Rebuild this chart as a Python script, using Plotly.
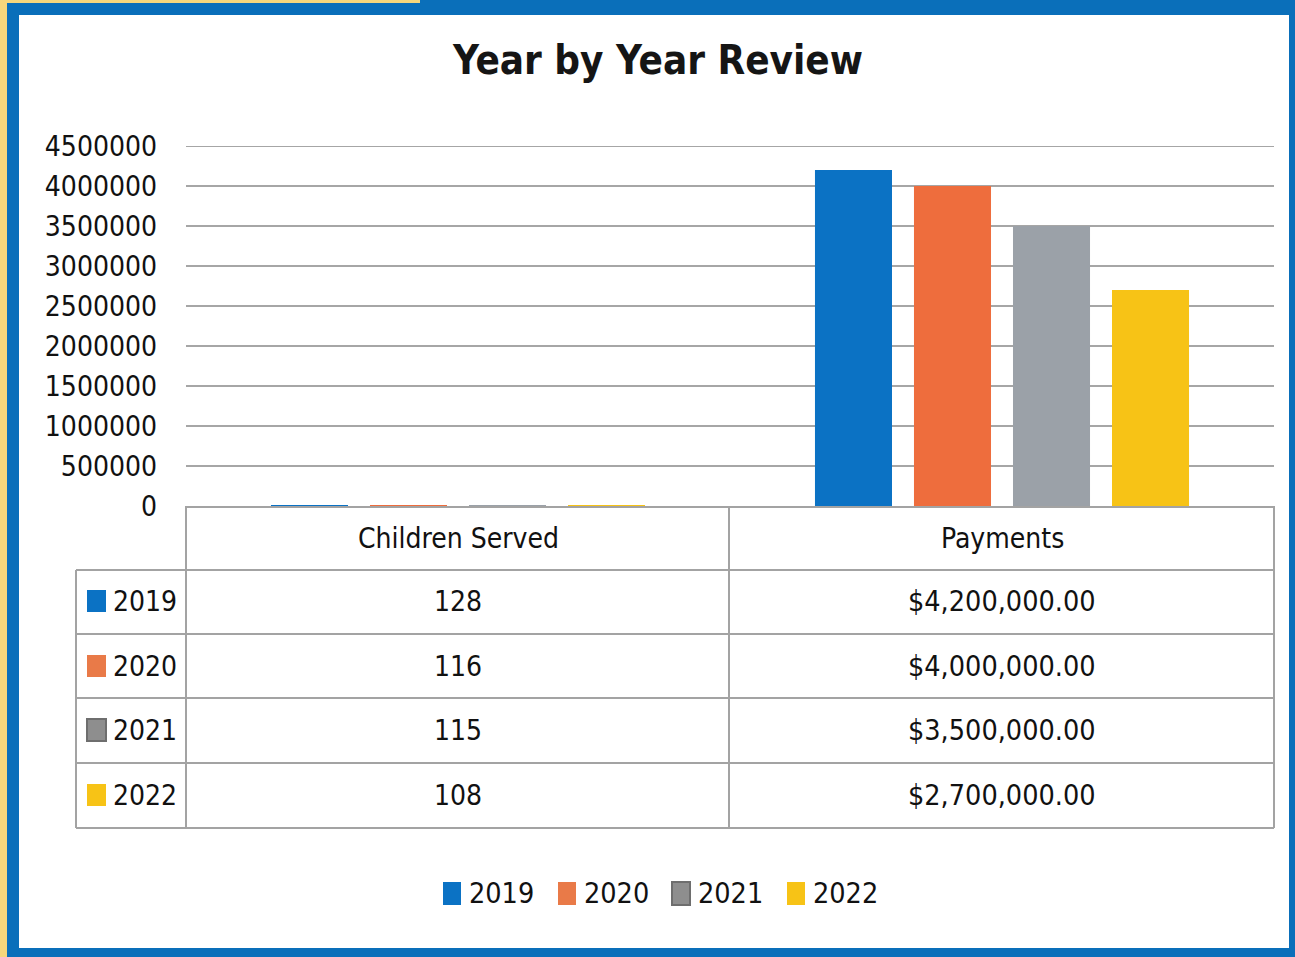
import plotly.graph_objects as go

# ---- data -------------------------------------------------------------
categories = ["Children Served", "Payments"]
years = ["2019", "2020", "2021", "2022"]
children_served = [128, 116, 115, 108]
payments = [4200000, 4000000, 3500000, 2700000]
payment_labels = ["$4,200,000.00", "$4,000,000.00", "$3,500,000.00", "$2,700,000.00"]
y_ticks = [0, 500000, 1000000, 1500000, 2000000, 2500000, 3000000, 3500000, 4000000, 4500000]

colors = ["#0B72C4", "#EE6D3D", "#9BA1A8", "#F7C316"]
key_colors = ["#0B72C4", "#E97A48", "#8E8E8E", "#F7C316"]

FONT = "DejaVu Sans Condensed, Liberation Sans Narrow, sans-serif"
W, H = 1295, 957
L, R, T, B = 186, 1274, 146, 506  # plot area in pixels


def px(x):
    return (x - L) / (R - L)


def py(y):
    return (B - y) / (B - T)


fig = go.Figure()
for i, yr in enumerate(years):
    fig.add_trace(go.Bar(
        x=categories,
        y=[children_served[i], payments[i]],
        name=yr,
        marker=dict(color=colors[i], line=dict(width=0)),
        showlegend=False,
    ))

shapes = []
annotations = []

# frame: blue border, yellow edge, white card
shapes.append(dict(type="rect", xref="paper", yref="paper", x0=px(0), x1=px(7), y0=py(W), y1=py(0),
                   fillcolor="#F6D77C", line=dict(width=0), layer="below"))
shapes.append(dict(type="rect", xref="paper", yref="paper", x0=px(0), x1=px(420), y0=py(3), y1=py(0),
                   fillcolor="#F6D77C", line=dict(width=0), layer="below"))
shapes.append(dict(type="rect", xref="paper", yref="paper", x0=px(19), x1=px(1289), y0=py(948), y1=py(15),
                   fillcolor="white", line=dict(width=0), layer="below"))

# top gridline at the axis maximum
shapes.append(dict(type="line", xref="paper", yref="y", x0=0, x1=1, y0=y_ticks[-1], y1=y_ticks[-1],
                   line=dict(color="#A6A6A6", width=2), layer="below"))

# data table grid
grid = "#A3A3A3"
for yline in [570, 634, 698, 763, 828]:
    shapes.append(dict(type="line", xref="paper", yref="paper", x0=px(76), x1=px(1274),
                       y0=py(yline), y1=py(yline), line=dict(color=grid, width=2)))
shapes.append(dict(type="line", xref="paper", yref="paper", x0=px(186), x1=px(1274),
                   y0=py(507), y1=py(507), line=dict(color=grid, width=2)))
for xline, ytop in [(186, 506), (729, 506), (1274, 506), (76, 570)]:
    shapes.append(dict(type="line", xref="paper", yref="paper", x0=px(xline), x1=px(xline),
                       y0=py(ytop), y1=py(828), line=dict(color=grid, width=2)))

# column headers
for cat in categories:
    annotations.append(dict(x=cat, xref="x", y=py(538), yref="paper", text=cat, showarrow=False,
                            font=dict(family=FONT, size=28, color="#111111"), xanchor="center", yanchor="middle"))

row_y = [601, 666, 730, 795]
for i, yr in enumerate(years):
    yc = row_y[i]
    # row key
    shapes.append(dict(type="rect", xref="paper", yref="paper", x0=px(87), x1=px(106),
                       y0=py(yc + 11), y1=py(yc - 11), fillcolor=key_colors[i],
                       line=dict(width=0 if i != 2 else 2, color="#6E6E6E")))
    annotations.append(dict(x=px(111), xref="paper", y=py(yc), yref="paper", text=yr, showarrow=False,
                            font=dict(family=FONT, size=28, color="#111111"), xanchor="left", yanchor="middle"))
    annotations.append(dict(x=categories[0], xref="x", y=py(yc), yref="paper", text=str(children_served[i]),
                            showarrow=False, font=dict(family=FONT, size=28, color="#111111"),
                            xanchor="center", yanchor="middle"))
    annotations.append(dict(x=categories[1], xref="x", y=py(yc), yref="paper", text=payment_labels[i],
                            showarrow=False, font=dict(family=FONT, size=28.5, color="#111111"),
                            xanchor="center", yanchor="middle"))

# bottom legend
leg_x = [443, 558, 672, 787]
for i, yr in enumerate(years):
    x0 = leg_x[i]
    shapes.append(dict(type="rect", xref="paper", yref="paper", x0=px(x0), x1=px(x0 + 18),
                       y0=py(905), y1=py(882), fillcolor=key_colors[i],
                       line=dict(width=0 if i != 2 else 2, color="#6E6E6E")))
    annotations.append(dict(x=px(x0 + 24), xref="paper", y=py(894), yref="paper", text=yr, showarrow=False,
                            font=dict(family=FONT, size=28.5, color="#111111"), xanchor="left", yanchor="middle"))

# title
annotations.append(dict(x=px(657), xref="paper", y=py(60), yref="paper", text="<b>Year by Year Review</b>",
                        showarrow=False, font=dict(family=FONT, size=40, color="#151515"),
                        xanchor="center", yanchor="middle"))

fig.update_layout(
    width=W, height=H,
    margin=dict(l=L, r=W - R, t=T, b=H - B, pad=0),
    paper_bgcolor="#0A6FBA",
    plot_bgcolor="rgba(0,0,0,0)",
    barmode="group",
    bargap=0.272,
    bargroupgap=0.222,
    shapes=shapes,
    annotations=annotations,
    showlegend=False,
    xaxis=dict(showticklabels=False, showgrid=False, zeroline=False, showline=False, ticks=""),
    yaxis=dict(range=[0, 4500000], tickvals=y_ticks, ticktext=[str(v) for v in y_ticks],
               showgrid=True, gridcolor="#A6A6A6", gridwidth=2, zeroline=False, showline=False,
               ticks="", ticklabelstandoff=28,
               tickfont=dict(family=FONT, size=28, color="#111111")),
)

fig.write_html("out.html")
